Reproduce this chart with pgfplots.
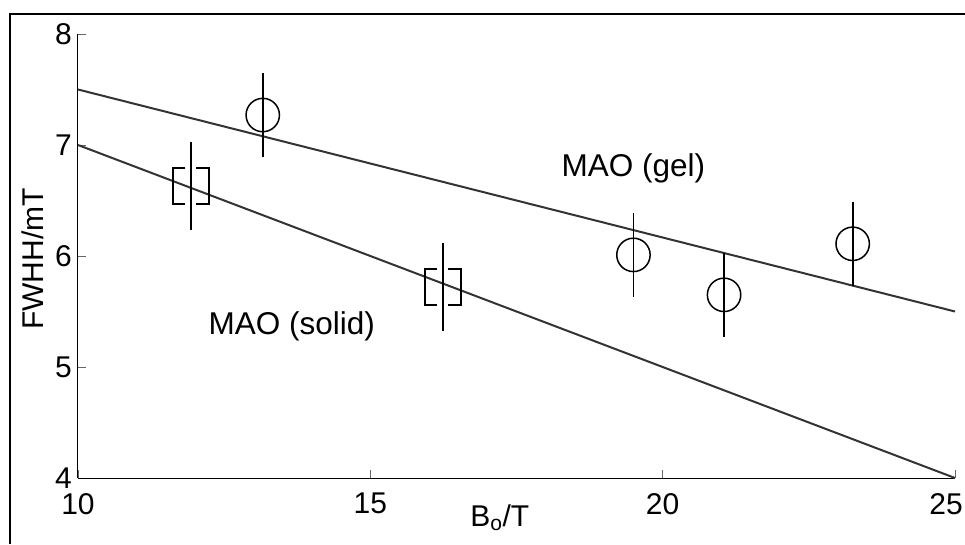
\documentclass[border=0pt]{standalone}
\usepackage{fontspec}
\setmainfont{Liberation Sans}
\usepackage{pgfplots}
\pgfplotsset{compat=1.18}
\pgfdeclareplotmark{brk}{%
  \pgfpathmoveto{\pgfpoint{-5.5pt}{18pt}}%
  \pgfpathlineto{\pgfpoint{-18pt}{18pt}}%
  \pgfpathlineto{\pgfpoint{-18pt}{-18pt}}%
  \pgfpathlineto{\pgfpoint{-5.5pt}{-18pt}}%
  \pgfpathmoveto{\pgfpoint{5.5pt}{18pt}}%
  \pgfpathlineto{\pgfpoint{18pt}{18pt}}%
  \pgfpathlineto{\pgfpoint{18pt}{-18pt}}%
  \pgfpathlineto{\pgfpoint{5.5pt}{-18pt}}%
  \pgfusepathqstroke}
\definecolor{fitgray}{HTML}{333333}
\begin{document}
\begin{tikzpicture}
\useasboundingbox (0,0) rectangle (965pt,544pt);
\draw[line width=2pt] (10pt,0pt) -- (10pt,529.7pt) -- (966pt,529.7pt);
\begin{axis}[
  at={(78pt,66pt)}, anchor=south west,
  scale only axis, width=877pt, height=444pt,
  xmin=10, xmax=25, ymin=4, ymax=8,
  axis x line=bottom, axis y line=left,
  axis line style={-, line width=1pt, black},
  xtick={10,15,20,25}, ytick={4,5,6,7,8},
  xticklabels={10,15,20,\hspace*{-18pt}25},
  tick align=inside, major tick length=8pt,
  tick style={line width=0.8pt, gray!80!black},
  /pgf/number format/assume math mode=true,
  tick label style={font=\fontsize{30}{34}\selectfont},
  xticklabel style={inner sep=0pt, anchor=north, yshift=-15pt},
  yticklabel style={inner sep=0pt, anchor=east, xshift=-6pt},
  clip=false,
]
\addplot[fitgray, line width=2pt] coordinates {(10,7.5) (25,5.5)};
\addplot[fitgray, line width=2pt] coordinates {(10,7.0) (25,4.0)};
\addplot[only marks, mark=o, mark size=16.7pt, mark options={line width=1.5pt, black, fill=none},
  error bars/.cd, y dir=both, y explicit, error mark=none,
  error bar style={line width=1.7pt, black}]
  coordinates {
  (13.16,7.27) +- (0,0.38)
  (19.50,6.01) +- (0,0.38)
  (21.05,5.65) +- (0,0.38)
  (23.25,6.11) +- (0,0.38)
  };
\addplot[only marks, mark=brk, mark options={line width=1.5pt, black},
  error bars/.cd, y dir=both, y explicit, error mark=none,
  error bar style={line width=1.7pt, black}]
  coordinates {
  (11.93,6.63) +- (0,0.40)
  (16.24,5.72) +- (0,0.40)
  };
\node[anchor=base west, inner sep=0pt, font=\fontsize{31.5}{36}\selectfont] at (axis cs:18.27,6.72) {MAO (gel)};
\node[anchor=base west, inner sep=0pt, font=\fontsize{31.5}{36}\selectfont] at (axis cs:12.23,5.29) {MAO (solid)};
\node[yshift=-48.7pt, anchor=base, inner sep=0pt, font=\fontsize{30}{36}\selectfont] at (rel axis cs:0.481,0) {B\textsubscript{o}/T};
\node[xshift=-34.7pt, rotate=90, anchor=base, inner sep=0pt, font=\fontsize{30}{36}\selectfont] at (rel axis cs:0,0.493) {FWHH/mT};
\end{axis}
\end{tikzpicture}
\end{document}
